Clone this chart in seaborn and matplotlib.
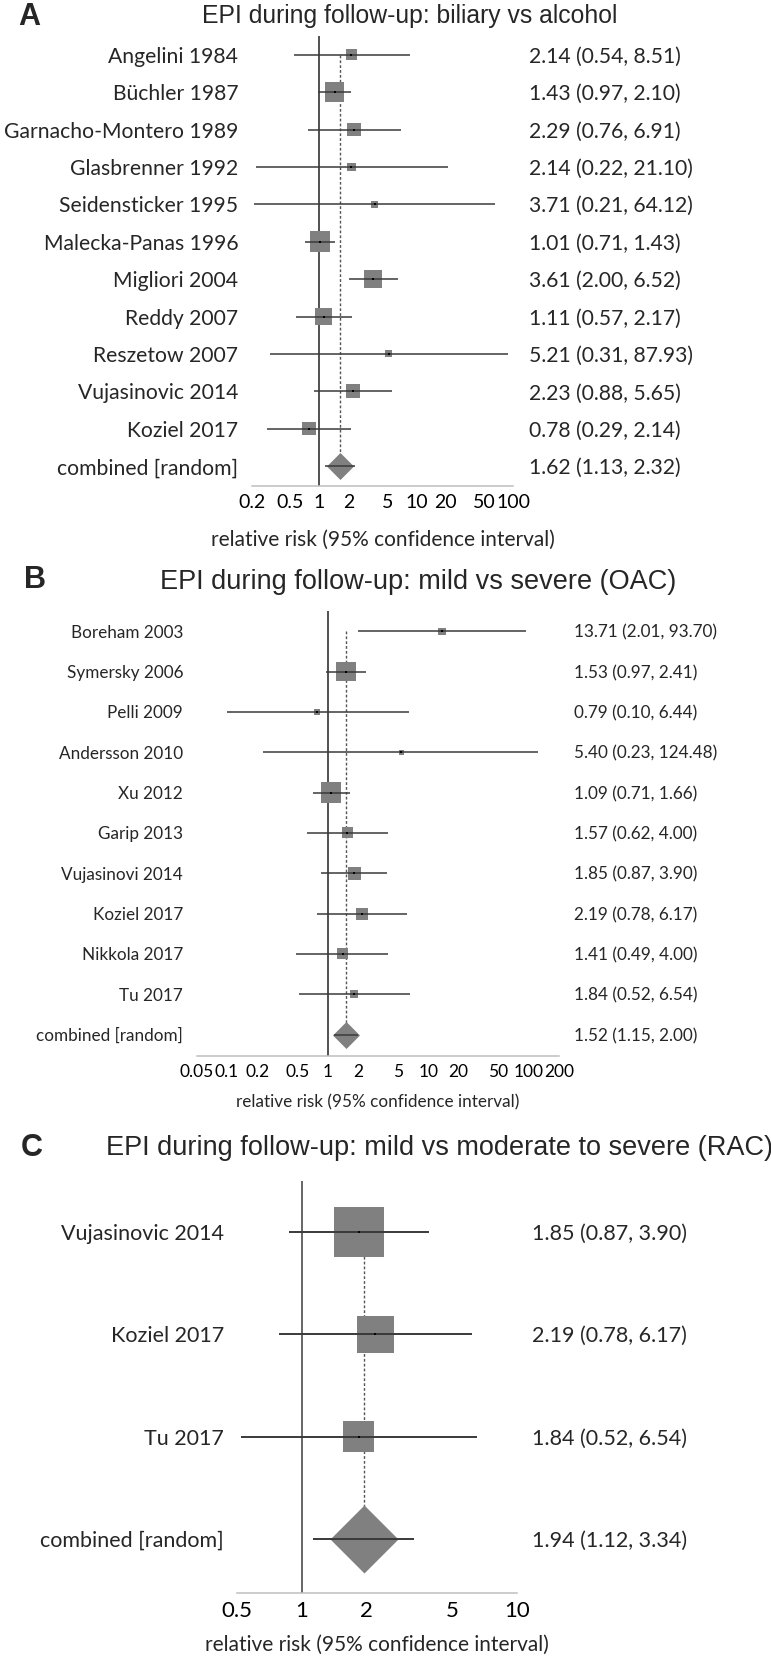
import numpy as np
import pandas as pd
import seaborn as sns
import matplotlib
matplotlib.use("Agg")
import matplotlib.pyplot as plt
from matplotlib.ticker import NullLocator

# A: biliary vs alcohol
a_names = ["Angelini 1984", "Büchler 1987", "Garnacho-Montero 1989", "Glasbrenner 1992",
           "Seidensticker 1995", "Malecka-Panas 1996", "Migliori 2004", "Reddy 2007",
           "Reszetow 2007", "Vujasinovic 2014", "Koziel 2017"]
a_rr = [2.14, 1.43, 2.29, 2.14, 3.71, 1.01, 3.61, 1.11, 5.21, 2.23, 0.78]
a_lo = [0.54, 0.97, 0.76, 0.22, 0.21, 0.71, 2.00, 0.57, 0.31, 0.88, 0.29]
a_hi = [8.51, 2.10, 6.91, 21.10, 64.12, 1.43, 6.52, 2.17, 87.93, 5.65, 2.14]
a_weight = [5.6, 16.4, 8.3, 3.0, 2.4, 18.9, 14.3, 12.8, 2.2, 8.7, 7.5]
a_pooled = [1.62, 1.13, 2.32]
a_ticks = [0.2, 0.5, 1, 2, 5, 10, 20, 50, 100]

# B: mild vs severe (OAC)
b_names = ["Boreham 2003", "Symersky 2006", "Pelli 2009", "Andersson 2010", "Xu 2012",
           "Garip 2013", "Vujasinovi 2014", "Koziel 2017", "Nikkola 2017", "Tu 2017"]
b_rr = [13.71, 1.53, 0.79, 5.40, 1.09, 1.57, 1.85, 2.19, 1.41, 1.84]
b_lo = [2.01, 0.97, 0.10, 0.23, 0.71, 0.62, 0.87, 0.78, 0.49, 0.52]
b_hi = [93.70, 2.41, 6.44, 124.48, 1.66, 4.00, 3.90, 6.17, 4.00, 6.54]
b_weight = [3.5, 24.4, 2.6, 1.8, 27.0, 7.9, 11.1, 9.4, 7.8, 4.2]
b_pooled = [1.52, 1.15, 2.00]
b_ticks = [0.05, 0.1, 0.2, 0.5, 1, 2, 5, 10, 20, 50, 100, 200]

# C: mild vs moderate to severe (RAC)
c_names = ["Vujasinovic 2014", "Koziel 2017", "Tu 2017"]
c_rr = [1.85, 2.19, 1.84]
c_lo = [0.87, 0.78, 0.52]
c_hi = [3.90, 6.17, 6.54]
c_weight = [51.8, 28.3, 19.9]
c_pooled = [1.94, 1.12, 3.34]
c_ticks = [0.5, 1, 2, 5, 10]

W, H = 771, 1660
PT = 0.72  # points per pixel at dpi 100

sns.set_style("white")
plt.rcParams["font.family"] = ["Lato", "DejaVu Sans"]

fig = plt.figure(figsize=(W / 100, H / 100), dpi=100)


def rect(left, top, right, bottom):
    return [left / W, 1 - bottom / H, (right - left) / W, (bottom - top) / H]


def forest(box, names, rr, lo, hi, weight, pooled, ticks, k, diamond, fs, tick_fs,
           lab_fs, lab_pad, vcol, lw):
    ax = fig.add_axes(rect(*box))
    ax.set_xscale("log")
    n = len(names) + 1
    rows = np.arange(len(names))
    df = pd.DataFrame({"rr": rr, "row": rows, "weight": weight})
    sizes = {w: (k * np.sqrt(w) * PT) ** 2 for w in weight}

    ax.axvline(1, color=vcol, lw=lw, zorder=1)
    ax.vlines(pooled[0], 0, n - 1, colors="#555555", lw=1.0,
              linestyles=(0, (2, 1.5)), zorder=1)

    sns.scatterplot(data=df, x="rr", y="row", size="weight", sizes=sizes, marker="s",
                    color="#808080", linewidth=0, legend=False, ax=ax, zorder=2)
    ax.hlines(rows, lo, hi, colors="#3a3a3a", lw=lw, zorder=3)
    ax.scatter(rr, rows, marker="s", s=(2 * PT) ** 2, color="black", lw=0, zorder=4)

    # pooled estimate
    ax.scatter([pooled[0]], [n - 1], marker=[(0, 1), (1, 0), (0, -1), (-1, 0)],
               s=(diamond * PT) ** 2, color="#808080", lw=0, zorder=2)
    ax.hlines([n - 1], pooled[1], pooled[2], colors="#3a3a3a", lw=lw, zorder=3)

    ax.set_xlim(ticks[0], ticks[-1])
    ax.set_ylim(n - 1 + 0.53, -0.5)
    ax.set_xticks(ticks, labels=[f"{t:g}" for t in ticks])
    ax.xaxis.set_minor_locator(NullLocator())
    ax.set_yticks([])
    ax.set_ylabel("")
    for s in ["left", "top", "right"]:
        ax.spines[s].set_visible(False)
    ax.spines["bottom"].set_color("#bfbfbf")
    ax.spines["bottom"].set_linewidth(1.1)
    ax.tick_params(axis="x", direction="out", length=4, width=1.1, color="#bfbfbf",
                   labelsize=tick_fs, pad=2, labelcolor="black")
    ax.set_xlabel("relative risk (95% confidence interval)", fontsize=lab_fs,
                  labelpad=lab_pad)

    labels = names + ["combined [random]"]
    vals = list(zip(rr, lo, hi)) + [tuple(pooled)]
    for i, (lab, v) in enumerate(zip(labels, vals)):
        ax.annotate(lab, xy=(0, i), xycoords=("axes fraction", "data"),
                    xytext=(-13.5 * PT, 0), textcoords="offset points",
                    ha="right", va="center_baseline", fontsize=fs)
        ax.annotate(f"{v[0]:.2f} ({v[1]:.2f}, {v[2]:.2f})", xy=(1, i),
                    xycoords=("axes fraction", "data"), xytext=(15.5 * PT, 0),
                    textcoords="offset points", ha="left", va="center_baseline",
                    fontsize=fs)
    return ax


forest((251.7, 36, 513.3, 486), a_names, a_rr, a_lo, a_hi, a_weight, a_pooled, a_ticks,
       k=4.76, diamond=27, fs=15.2, tick_fs=14, lab_fs=15, lab_pad=13,
       vcol="#222222", lw=1.1)
forest((196.7, 611, 559, 1056), b_names, b_rr, b_lo, b_hi, b_weight, b_pooled, b_ticks,
       k=3.91, diamond=27, fs=12.3, tick_fs=12.5, lab_fs=12.3, lab_pad=10,
       vcol="#222222", lw=1.1)
forest((237.3, 1181, 516.7, 1593), c_names, c_rr, c_lo, c_hi, c_weight, c_pooled, c_ticks,
       k=6.95, diamond=68, fs=15.5, tick_fs=16, lab_fs=15, lab_pad=10,
       vcol="#666666", lw=1.4)

title_font = ["Liberation Sans", "DejaVu Sans"]
fig.text(410 / W, 1 - 16 / H, "EPI during follow-up: biliary vs alcohol", ha="center",
         va="center", fontsize=17.8, family=title_font)
fig.text(418 / W, 1 - 582 / H, "EPI during follow-up: mild vs severe (OAC)", ha="center",
         va="center", fontsize=19.5, family=title_font)
fig.text(106 / W, 1 - 1148 / H, "EPI during follow-up: mild vs moderate to severe (RAC)",
         ha="left", va="center", fontsize=19.5, family=title_font)
for lab, x, y in [("A", 18, 17), ("B", 24, 580), ("C", 21, 1148)]:
    fig.text(x / W, 1 - y / H, lab, ha="left", va="center", fontsize=22,
             fontweight="bold", family=title_font)

fig.savefig("out.png", dpi=100, facecolor="white")
